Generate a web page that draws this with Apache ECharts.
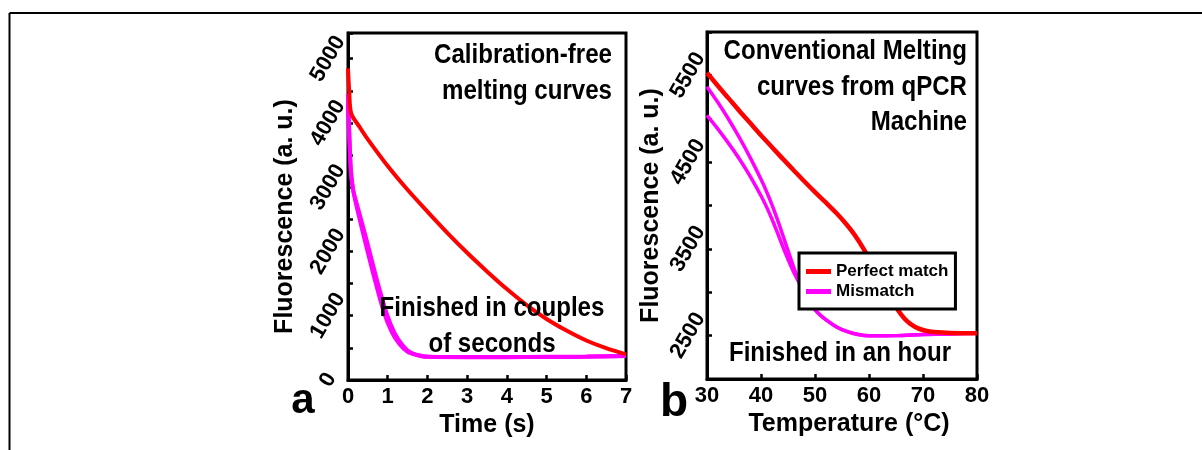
<!DOCTYPE html>
<html>
<head>
<meta charset="utf-8">
<script src="https://cdn.jsdelivr.net/npm/echarts@6/dist/echarts.min.js"></script>
<style>
  html, body { margin: 0; padding: 0; background: #fff; }
  #chart { width: 1202px; height: 450px; }
</style>
</head>
<body>
<div id="chart"></div>
<script>
// panel a: calibration-free melting (time in s)
const timeRed = [0, 0.03, 0.08, 0.3, 0.5, 1, 1.5, 2, 2.5, 3, 3.5, 4, 4.5, 5, 5.5, 6, 6.5, 7]
const redA = [4850, 4500, 4150, 3930, 3745, 3330, 2960, 2620, 2290, 1980, 1690, 1415, 1165, 950, 770, 615, 495, 400]
const timeMis1 = [0, 0.03, 0.07, 0.12, 0.18, 0.4, 0.65, 0.9, 1.1, 1.3, 1.5, 1.75, 2, 3, 4, 5, 6, 7]
const misA1 = [4450, 3900, 3300, 3000, 2800, 2230, 1620, 1060, 750, 555, 440, 385, 360, 355, 355, 358, 362, 372]
const timeMis2 = [0, 0.03, 0.07, 0.12, 0.2, 0.45, 0.71, 0.97, 1.17, 1.37, 1.56, 1.8, 2, 3, 4, 5, 6, 7]
const misA2 = [4300, 3800, 3250, 2980, 2790, 2220, 1600, 1040, 735, 545, 432, 382, 360, 356, 356, 360, 365, 375]

// panel b: qPCR melting (temperature in C)
const tempRed = [30, 32, 34, 36, 38, 40, 42, 44, 46, 48, 50, 52, 54, 56, 57, 58, 59, 60, 61, 62, 63, 64, 65, 66, 67, 68, 69, 70, 71, 72, 75, 80]
const redB = [5530, 5380, 5235, 5090, 4950, 4810, 4675, 4540, 4410, 4280, 4155, 4035, 3910, 3770, 3690, 3600, 3500, 3395, 3285, 3170, 3050, 2935, 2830, 2740, 2670, 2620, 2586, 2565, 2550, 2541, 2530, 2526]
const tempMis = [30, 32, 34, 36, 38, 40, 41, 42, 43, 44, 45, 46, 47, 48, 49, 50, 51, 52, 54, 56, 58, 60, 65, 70, 75, 80]
const misB1 = [5370, 5190, 4994, 4782, 4552, 4302, 4165, 4013, 3845, 3665, 3480, 3300, 3135, 2995, 2885, 2800, 2735, 2685, 2600, 2545, 2512, 2498, 2500, 2512, 2520, 2527]
const misB2 = [5040, 4884, 4716, 4536, 4336, 4112, 3987, 3847, 3692, 3532, 3380, 3240, 3115, 2995, 2885, 2800, 2735, 2685, 2600, 2545, 2512, 2498, 2500, 2512, 2520, 2527]

const FONT = '"Liberation Sans", Arial, sans-serif'
const RED = '#ff0000'
const MAG = '#ff00ff'

const pairs = (xs, ys) => xs.map((x, i) => [x, ys[i]])

const axisCommon = {
  type: 'value',
  axisLine: { show: true, lineStyle: { color: '#000', width: 3 } },
  axisTick: { show: true, inside: true, length: 5, lineStyle: { color: '#000', width: 2.5 } },
  splitLine: { show: false },
  axisLabel: { color: '#000', fontFamily: FONT, fontWeight: 'bold', fontSize: 22 },
  nameTextStyle: { color: '#000', fontFamily: FONT, fontWeight: 'bold', fontSize: 25 }
}

const line = (name, color, width, data, xi) => ({
  name, type: 'line', xAxisIndex: xi, yAxisIndex: xi,
  data, showSymbol: false, smooth: 0.3,
  lineStyle: { color, width }, itemStyle: { color }
})

// text blocks drawn squeezed sideways, like the narrow face of the original
const note = (text, x, y, align, lh) => ({
  type: 'text', x, y, z: 10, scaleX: 0.86,
  style: { text, font: 'bold 28px ' + FONT, fill: '#000', align, verticalAlign: 'middle', lineHeight: lh }
})

const chart = echarts.init(document.getElementById('chart'))
chart.setOption({
  backgroundColor: '#fff',
  animation: false,
  grid: [
    { left: 348, top: 33, width: 278, height: 347, show: true, borderColor: '#000', borderWidth: 3 },
    { left: 707, top: 32, width: 270, height: 347, show: true, borderColor: '#000', borderWidth: 3 }
  ],
  xAxis: [
    { ...axisCommon, gridIndex: 0, min: 0, max: 7, interval: 1,
      name: 'Time (s)', nameLocation: 'middle', nameGap: 24,
      axisLabel: { ...axisCommon.axisLabel, margin: 6 } },
    { ...axisCommon, gridIndex: 1, min: 30, max: 80, interval: 10,
      name: 'Temperature (°C)', nameLocation: 'middle', nameGap: 24,
      nameTextStyle: { ...axisCommon.nameTextStyle, padding: [0, 0, 0, 14] },
      axisLabel: { ...axisCommon.axisLabel, margin: 6 } }
  ],
  yAxis: [
    { ...axisCommon, gridIndex: 0, min: 0, max: 5400, interval: 500,
      name: 'Fluorescence (a. u.)', nameLocation: 'middle', nameGap: 50,
      nameTextStyle: { ...axisCommon.nameTextStyle, padding: [0, 20, 0, 0] },
      axisLabel: { ...axisCommon.axisLabel, rotate: 60, align: 'center', verticalAlign: 'middle', margin: 20,
        formatter: v => (v % 1000 === 0 ? String(v) : '') } },
    { ...axisCommon, gridIndex: 1, min: 2000, max: 6000, interval: 500,
      name: 'Fluorescence (a. u.)', nameLocation: 'middle', nameGap: 42,
      axisLabel: { ...axisCommon.axisLabel, rotate: 60, align: 'center', verticalAlign: 'middle', margin: 19,
        formatter: v => ((v - 2500) % 1000 === 0 ? String(v) : '') } }
  ],
  legend: {
    data: ['Perfect match', 'Mismatch'],
    orient: 'vertical', left: 799, top: 253,
    backgroundColor: '#fff', borderColor: '#000', borderWidth: 3,
    padding: [10, 7, 9, 7], itemGap: 3, itemWidth: 25, itemHeight: 5, icon: 'rect',
    textStyle: { color: '#000', fontFamily: FONT, fontWeight: 'bold', fontSize: 17 }
  },
  series: [
    line('Mismatch', MAG, 4, pairs(timeMis1, misA1), 0),
    line('Mismatch', MAG, 4, pairs(timeMis2, misA2), 0),
    line('Perfect match', RED, 4, pairs(timeRed, redA), 0),
    line('Mismatch', MAG, 3.5, pairs(tempMis, misB1), 1),
    line('Mismatch', MAG, 3.5, pairs(tempMis, misB2), 1),
    line('Perfect match', RED, 4.5, pairs(tempRed, redB), 1)
  ],
  graphic: [
    { type: 'line', shape: { x1: 9.5, y1: 13, x2: 1202, y2: 13 }, style: { stroke: '#000', lineWidth: 2 } },
    { type: 'line', shape: { x1: 9.5, y1: 13, x2: 9.5, y2: 450 }, style: { stroke: '#000', lineWidth: 2 } },
    note('Calibration-free\nmelting curves', 612, 73, 'right', 36),
    note('Finished in couples\nof seconds', 492, 326, 'center', 36),
    note('Conventional Melting\ncurves from qPCR\nMachine', 967, 87, 'right', 35.5),
    note('Finished in an hour', 840, 353, 'center', 36),
    { type: 'text', x: 303, y: 401, z: 10,
      style: { text: 'a', font: 'bold 42px ' + FONT, fill: '#000', align: 'center', verticalAlign: 'middle' } },
    { type: 'text', x: 674, y: 403, z: 10,
      style: { text: 'b', font: 'bold 46px ' + FONT, fill: '#000', align: 'center', verticalAlign: 'middle' } }
  ]
})
</script>
</body>
</html>
